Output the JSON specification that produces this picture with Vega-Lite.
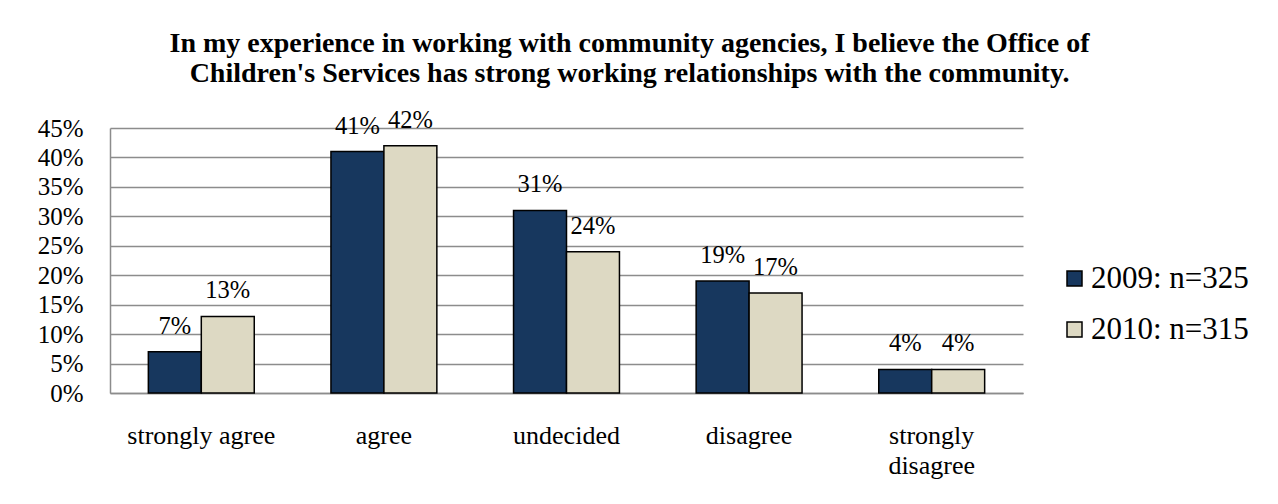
{
  "$schema": "https://vega.github.io/schema/vega-lite/v6.json",
  "autosize": {"type": "none"},
  "width": 913,
  "height": 265,
  "padding": {"left": 110, "top": 128, "right": 255, "bottom": 111},
  "background": "white",
  "title": {
    "text": ["In my experience in working with community agencies, I believe the Office of", "Children's Services has strong working relationships with the community."],
    "font": "Liberation Serif, Times New Roman, serif",
    "fontSize": 28,
    "fontWeight": "bold",
    "color": "black",
    "anchor": "middle",
    "dx": 63,
    "lineHeight": 30,
    "offset": 20
  },
  "data": {
    "values": [
      {"category": "strongly agree", "year": "2009: n=325", "value": 0.07},
      {"category": "strongly agree", "year": "2010: n=315", "value": 0.13},
      {"category": "agree", "year": "2009: n=325", "value": 0.41},
      {"category": "agree", "year": "2010: n=315", "value": 0.42},
      {"category": "undecided", "year": "2009: n=325", "value": 0.31},
      {"category": "undecided", "year": "2010: n=315", "value": 0.24},
      {"category": "disagree", "year": "2009: n=325", "value": 0.19},
      {"category": "disagree", "year": "2010: n=315", "value": 0.17},
      {"category": "strongly disagree", "year": "2009: n=325", "value": 0.04},
      {"category": "strongly disagree", "year": "2010: n=315", "value": 0.04}
    ]
  },
  "encoding": {
    "x": {
      "field": "category",
      "type": "nominal",
      "sort": ["strongly agree", "agree", "undecided", "disagree", "strongly disagree"],
      "scale": {"paddingInner": 0.42, "paddingOuter": 0.21},
      "axis": {
        "title": null,
        "labelAngle": 0,
        "ticks": false,
        "grid": false,
        "domain": true,
        "domainColor": "#8c8c8c",
        "domainWidth": 1.5,
        "labelFont": "Liberation Serif, Times New Roman, serif",
        "labelFontSize": 26,
        "labelColor": "black",
        "labelPadding": 29,
        "labelBaseline": "top",
        "labelLineHeight": 30,
        "labelExpr": "datum.label == 'strongly disagree' ? ['strongly', 'disagree'] : datum.label"
      }
    },
    "xOffset": {
      "field": "year",
      "type": "nominal",
      "scale": {"paddingInner": 0, "paddingOuter": 0}
    },
    "y": {
      "field": "value",
      "type": "quantitative",
      "scale": {"domain": [0, 0.45], "nice": false},
      "axis": {
        "title": null,
        "values": [0, 0.05, 0.1, 0.15, 0.2, 0.25, 0.3, 0.35, 0.4, 0.45],
        "format": ".0%",
        "ticks": false,
        "grid": true,
        "gridColor": "#8c8c8c",
        "gridWidth": 1.5,
        "domain": true,
        "domainColor": "#8c8c8c",
        "domainWidth": 1.5,
        "labelFont": "Liberation Serif, Times New Roman, serif",
        "labelFontSize": 25,
        "labelColor": "black",
        "labelPadding": 27
      }
    }
  },
  "layer": [
    {
      "mark": {"type": "bar", "stroke": "black", "strokeWidth": 1.5},
      "encoding": {
        "color": {
          "field": "year",
          "type": "nominal",
          "scale": {"range": ["#17375E", "#DDD9C3"]},
          "legend": {
            "title": null,
            "orient": "none",
            "legendX": 949,
            "legendY": 135,
            "symbolType": "square",
            "symbolSize": 225,
            "symbolStrokeColor": "black",
            "symbolStrokeWidth": 1.5,
            "labelFont": "Liberation Serif, Times New Roman, serif",
            "labelFontSize": 31,
            "labelColor": "black",
            "labelOffset": 1,
            "rowPadding": 19,
            "labelLimit": 300
          }
        }
      }
    },
    {
      "mark": {"type": "text", "dy": -18, "baseline": "alphabetic", "font": "Liberation Serif, Times New Roman, serif", "fontSize": 24.5, "color": "black"},
      "encoding": {
        "text": {"field": "value", "type": "quantitative", "format": ".0%"}
      }
    }
  ],
  "config": {"view": {"stroke": null}, "font": "Liberation Serif, Times New Roman, serif"}
}
